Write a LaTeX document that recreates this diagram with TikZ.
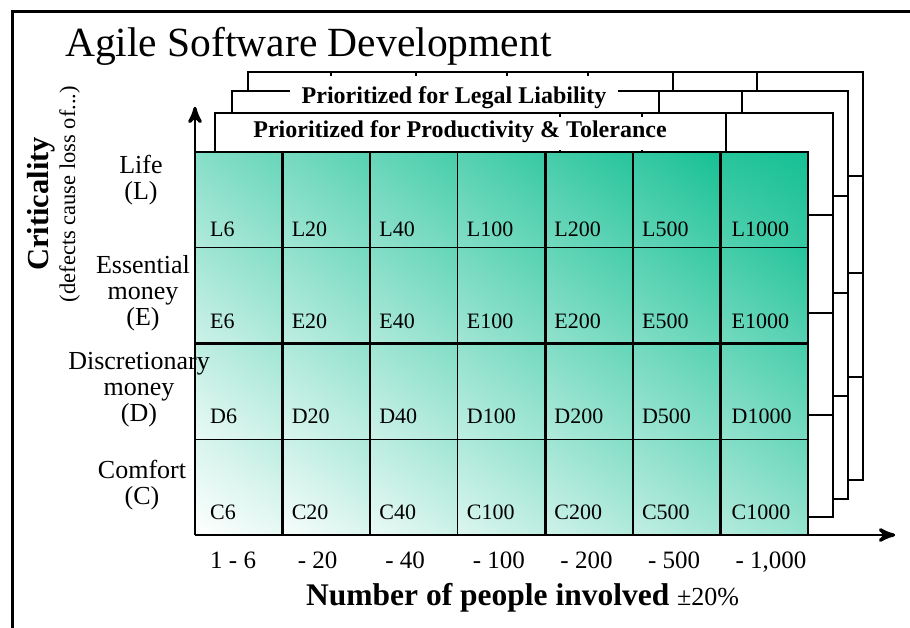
\documentclass[tikz,border=0pt]{standalone}
\usepackage{fontspec}
\setmainfont{Liberation Serif}
\usetikzlibrary{decorations.markings}
\usetikzlibrary{arrows}
\usetikzlibrary{shadings}
\tikzset{axisline/.style = {line width=1.4, decoration={markings,
                                  mark=at position 1 with {\arrow[scale=2.3]{stealth'}}},
                      postaction={decorate}}}
\tikzset{sheet/.style = {draw, fill=white, line width=1.4}}
\tikzset{tablabel/.style = {fill=white, inner ysep=0, anchor=base, font=\fontsize{24}{24}\selectfont\bfseries}}
\tikzset{celllabel/.style = {anchor=base west, inner sep=0, font=\fontsize{22}{22}\selectfont}}
\tikzset{sizelabel/.style = {anchor=base west, inner sep=0, font=\fontsize{25}{25}\selectfont}}
\tikzset{rowlabel/.style = {anchor=north, align=center, inner sep=0, font=\fontsize{26}{26}\selectfont}}
\definecolor{mgreen}{RGB}{22,192,148}

\begin{document}
\begin{tikzpicture}[x=1pt, y=-1pt]
    \useasboundingbox (0,0) rectangle (910,628);
    \draw [line width=3] (910,12) -- (12,12) -- (12,628);

    \node [anchor=base west, inner sep=0, font=\fontsize{41.5}{45}\selectfont] (title) at (65,57) {Agile Software Development};

    \draw [sheet] (248,72) rectangle (863,480);
    \foreach \x in {331,416,507,588,673,757}
      \draw [line width=1.4] (\x,72) -- (\x,91);
    \foreach \y in {176,273,377}
      \draw [line width=1.4] (848,\y) -- (863,\y);

    \draw [sheet] (232,91) rectangle (848,499);
    \foreach \x in {659,742}
      \draw [line width=1.4] (\x,91) -- (\x,113);
    \foreach \y in {196,293,396}
      \draw [line width=1.4] (833,\y) -- (848,\y);
    \node [tablabel, inner xsep=12, text height=28, text depth=6] (legal) at (454,104) {Prioritized for Legal Liability};

    \draw [sheet] (215,113) rectangle (833,517);
    \foreach \x in {560,642,726}
      \draw [line width=1.4] (\x,113) -- (\x,152);
    \foreach \y in {215,313,415}
      \draw [line width=1.4] (808,\y) -- (833,\y);
    \node [tablabel, inner xsep=32, text height=21, text depth=12] (productivity) at (460,138) {Prioritized for Productivity \& Tolerance};

    \foreach \i in {0,...,6}
      \foreach \j in {0,...,3} {
        \pgfmathsetmacro\ua{\i/7}
        \pgfmathsetmacro\ub{(\i+1)/7}
        \pgfmathsetmacro\va{\j/4}
        \pgfmathsetmacro\vb{(\j+1)/4}
        \pgfmathsetmacro\pll{max(0,4+41*\ua+48*\va+7*\ua*\va-7)}
        \pgfmathsetmacro\plr{4+41*\ub+48*\va+7*\ub*\va}
        \pgfmathsetmacro\pul{4+41*\ua+48*\vb+7*\ua*\vb}
        \pgfmathsetmacro\pur{min(100,4+41*\ub+48*\vb+7*\ub*\vb+7)}
        \colorlet{cellll}{mgreen!\pll!white}
        \colorlet{celllr}{mgreen!\plr!white}
        \colorlet{cellul}{mgreen!\pul!white}
        \colorlet{cellur}{mgreen!\pur!white}
        \shade [lower left=cellll, lower right=celllr, upper left=cellul, upper right=cellur]
          ({195+87.571*\i}, {535-95.75*\j}) rectangle ({195+87.571*(\i+1)}, {535-95.75*(\j+1)});
      }
    \foreach \i in {2,3,5}
      \draw [line width=1.3] (195+87.571*\i,152) -- (195+87.571*\i,535);
    \foreach \i in {1,4,6}
      \draw [line width=2.8] (195+87.571*\i,152) -- (195+87.571*\i,535);
    \foreach \j in {1,3}
      \draw [line width=1.3] (195,152+95.75*\j) -- (808,152+95.75*\j);
    \draw [line width=2.8] (195,343.5) -- (808,343.5);
    \draw [line width=1.3] (195,152) -- (808,152) -- (808,535);

    \foreach \r/\yb in {L/237, E/328, D/423, C/519}
      \foreach \n/\dx [count=\i from 0] in {6/15, 20/9, 40/9, 100/9, 200/9, 500/9, 1000/11}
        \node [celllabel] (\r\n) at (195+87.571*\i+\dx, \yb) {\r\n};

    \coordinate (origin) at (195,535);
    \coordinate (ytip) at (195,107);
    \coordinate (xtip) at (895,535);
    \draw [axisline] (origin) -- (ytip);
    \draw [axisline] (origin) -- (xtip);

    \node [rowlabel] (life) at (141,155) {Life\\(L)};
    \node [rowlabel] (essential) at (143,255) {Essential\\money\\(E)};
    \node [rowlabel] (discretionary) at (139,352) {Discretionary\\money\\(D)};
    \node [rowlabel] (comfort) at (142,460) {Comfort\\(C)};

    \node [rotate=90, anchor=base, inner sep=0, font=\fontsize{30.5}{32}\selectfont\bfseries] (criticality) at (48,204) {Criticality};
    \node [rotate=90, anchor=base, inner sep=0, font=\fontsize{22.5}{24}\selectfont] (lossof) at (75,194) {(defects cause loss of...)};

    \foreach \t [count=\i from 0] in {1 - 6, - 20, - 40, - 100, - 200, - 500, {- 1,000}}
      \node [sizelabel] (size\i) at (195+87.571*\i+15, 568) {\t};

    \node [anchor=base west, inner sep=0, font=\fontsize{31.5}{34}\selectfont\bfseries] (people) at (306,605) {Number of people involved {\mdseries\fontsize{26}{28}\selectfont ±20\%}};
\end{tikzpicture}
\end{document}
